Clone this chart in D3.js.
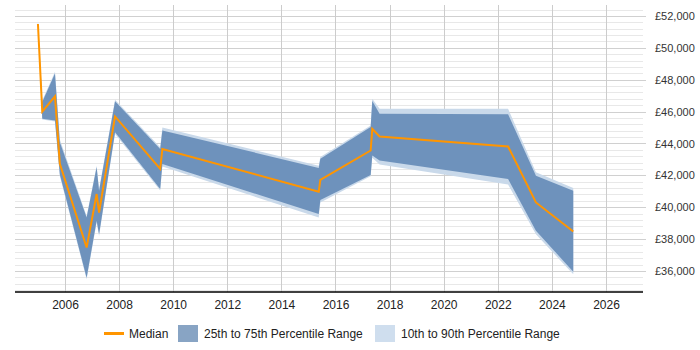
<!DOCTYPE html>
<html>
<head>
<meta charset="utf-8">
<script src="https://cdn.jsdelivr.net/npm/d3@7"></script>
<style>
  body { margin: 0; background: #fff; }
  svg { font-family: "Liberation Sans", Arial, sans-serif; }
</style>
</head>
<body>
<div id="chart"></div>
<script>
// dates as decimal years
const dates = [2005.0, 2005.16, 2005.63, 2005.81, 2006.8, 2007.17, 2007.26, 2007.85,
  2009.52, 2009.6, 2015.38, 2015.44, 2017.3, 2017.36, 2017.63, 2022.38, 2023.41, 2024.79];
const median = [51500, 46000, 46960, 42720, 37470, 40830, 39670, 45700,
  42410, 43660, 40980, 41710, 43560, 44920, 44440, 43810, 40300, 38480];
const p25 = [51450, 45560, 45450, 42050, 35580, 39150, 38310, 44710,
  41150, 42720, 39570, 40450, 42030, 43240, 42930, 41780, 38520, 35960];
const p75 = [51600, 46600, 48390, 44080, 39360, 42510, 41040, 46650,
  43660, 44820, 42470, 43040, 45030, 46670, 45870, 45830, 41980, 41040];
const p10 = [51300, 45500, 45380, 41950, 35480, 39050, 38200, 44600,
  41050, 42550, 39360, 40300, 41950, 43100, 42680, 41420, 38310, 35790];
const p90 = [51800, 46700, 48500, 44250, 39450, 42600, 41150, 46750,
  43760, 45000, 42610, 43150, 45130, 46800, 46180, 46180, 42190, 41210];

const yearTicks = [2006, 2008, 2010, 2012, 2014, 2016, 2018, 2020, 2022, 2024, 2026];
const salaryTicks = [36000, 38000, 40000, 42000, 44000, 46000, 48000, 50000, 52000];

const legendItems = ["Median", "25th to 75th Percentile Range", "10th to 90th Percentile Range"];

const width = 700, height = 350;
const plot = { left: 15, right: 643, top: 5, bottom: 292 };

const data = dates.map((d, i) => ({
  x: d, med: median[i], lo25: p25[i], hi75: p75[i], lo10: p10[i], hi90: p90[i]
}));

const x = d3.scaleLinear().domain([2004.152, 2027.368]).range([plot.left, plot.right]);
const y = d3.scaleLinear().domain([34682, 52690]).range([plot.bottom, plot.top]);

const svg = d3.select("#chart").append("svg")
  .attr("width", width)
  .attr("height", height);

// minor horizontal grid
const minor = d3.range(34800, 52700, 400).filter(v => v % 2000 !== 0);
svg.append("g")
  .selectAll("line")
  .data(minor)
  .enter()
  .append("line")
  .attr("x1", plot.left)
  .attr("x2", plot.right)
  .attr("y1", d => Math.round(y(d)) + 0.5)
  .attr("y2", d => Math.round(y(d)) + 0.5)
  .attr("stroke", "#e8e8e8");

// major horizontal grid
svg.append("g")
  .selectAll("line")
  .data(salaryTicks)
  .enter()
  .append("line")
  .attr("x1", plot.left)
  .attr("x2", plot.right + 3)
  .attr("y1", d => Math.round(y(d)) + 0.5)
  .attr("y2", d => Math.round(y(d)) + 0.5)
  .attr("stroke", "#d0d0d0");

// vertical grid
svg.append("g")
  .selectAll("line")
  .data(yearTicks)
  .enter()
  .append("line")
  .attr("x1", d => Math.round(x(d)) + 0.5)
  .attr("x2", d => Math.round(x(d)) + 0.5)
  .attr("y1", plot.top)
  .attr("y2", plot.bottom)
  .attr("stroke", "#cccccc");

// bands
const area90 = d3.area().x(d => x(d.x)).y0(d => y(d.lo10)).y1(d => y(d.hi90));
const area75 = d3.area().x(d => x(d.x)).y0(d => y(d.lo25)).y1(d => y(d.hi75));
const line = d3.line().x(d => x(d.x)).y(d => y(d.med));

svg.append("path").datum(data).attr("d", area90).attr("fill", "#c9d9ea");
svg.append("path").datum(data).attr("d", area75).attr("fill", "#6e92bc");
svg.append("path").datum(data).attr("d", line)
  .attr("fill", "none")
  .attr("stroke", "#ff9500")
  .attr("stroke-width", 2)
  .attr("stroke-linejoin", "miter");

// x axis
const xAxis = d3.axisBottom(x).tickValues(yearTicks).tickFormat(d3.format("d")).tickSize(0).tickPadding(8);
const gx = svg.append("g")
  .attr("transform", `translate(0, ${plot.bottom})`)
  .call(xAxis);
gx.select(".domain").attr("stroke", "#000").attr("stroke-width", 1.5)
  .attr("d", `M${plot.left},0H${plot.right}`);
gx.selectAll("text").attr("font-size", 12).attr("fill", "#222")
  .attr("font-family", "Liberation Sans, Arial, sans-serif");

// y axis on the right
const yAxis = d3.axisRight(y).tickValues(salaryTicks)
  .tickFormat(d => "£" + d3.format(",")(d)).tickSize(0).tickPadding(12);
const gy = svg.append("g")
  .attr("transform", `translate(${plot.right}, 0)`)
  .call(yAxis);
gy.select(".domain").remove();
gy.selectAll("text").attr("font-size", 11).attr("fill", "#333")
  .attr("font-family", "Liberation Sans, Arial, sans-serif");

// legend
const legend = svg.append("g").attr("font-size", 12).attr("fill", "#222");
const lx = [104, 178, 375];
legend.append("line")
  .attr("x1", lx[0]).attr("x2", lx[0] + 20)
  .attr("y1", 333.5).attr("y2", 333.5)
  .attr("stroke", "#ff9500").attr("stroke-width", 3);
legend.append("rect").attr("x", lx[1]).attr("y", 325).attr("width", 20).attr("height", 17).attr("fill", "#88a4c4");
legend.append("rect").attr("x", lx[2]).attr("y", 325).attr("width", 20).attr("height", 17).attr("fill", "#cfdeee");
legendItems.forEach((t, i) => {
  legend.append("text")
    .attr("x", lx[i] + (i === 0 ? 25 : 26))
    .attr("y", 338)
    .attr("fill", "#222")
    .text(t);
});
</script>
</body>
</html>
